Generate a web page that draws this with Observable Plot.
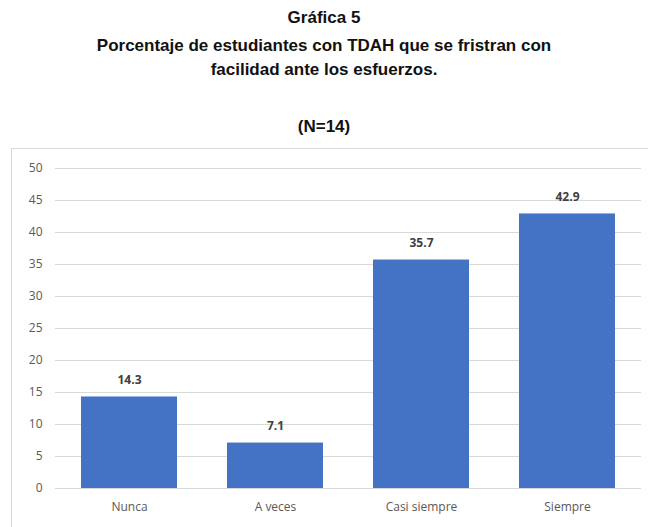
<!DOCTYPE html>
<html>
<head>
<meta charset="utf-8">
<script src="https://cdn.jsdelivr.net/npm/d3@7"></script>
<script src="https://cdn.jsdelivr.net/npm/@observablehq/plot@0.6"></script>
<style>
  html, body { margin: 0; padding: 0; background: #fff; width: 648px; height: 527px; overflow: hidden; position: relative; }
  .t { position: absolute; left: 0; width: 648px; text-align: center; font-family: "Liberation Sans", Arial, sans-serif; font-weight: bold; font-size: 17px; color: #111; line-height: 1; }
  #box { position: absolute; left: 11px; top: 148px; width: 700px; height: 500px; border: 1.5px solid #d9d9d9; }
  #chart { position: absolute; left: 0; top: 148px; }
</style>
</head>
<body>
<div class="t" style="top:9px">Gráfica 5</div>
<div class="t" style="top:37px">Porcentaje de estudiantes con TDAH que se fristran con</div>
<div class="t" style="top:61px">facilidad ante los esfuerzos.</div>
<div class="t" style="top:118px">(N=14)</div>
<div id="box"></div>
<div id="chart"></div>
<script>
const categories = ["Nunca", "A veces", "Casi siempre", "Siempre"];
const values = [14.3, 7.1, 35.7, 42.9];
const yTicks = [0, 5, 10, 15, 20, 25, 30, 35, 40, 45, 50];

const data = categories.map((c, i) => ({cat: c, val: values[i]}));

const chart = Plot.plot({
  width: 648,
  height: 379,
  marginTop: 20,
  marginBottom: 39,
  marginLeft: 55,
  marginRight: 7,
  style: {fontFamily: "'Open Sans', 'Liberation Sans', sans-serif", fontSize: "12px", color: "#595959", background: "transparent"},
  x: {domain: categories, paddingInner: 0.34, paddingOuter: 0.17, label: null, tickSize: 0, tickPadding: 14},
  y: {domain: [0, 50], ticks: yTicks, label: null, tickSize: 0, tickPadding: 13},
  marks: [
    Plot.gridY(yTicks, {stroke: "#d9d9d9", strokeOpacity: 1, strokeWidth: 1}),
    Plot.barY(data, {x: "cat", y: "val", fill: "#4472c4"}),
    Plot.text(data, {x: "cat", y: "val", text: d => d.val.toFixed(1), dy: -17, fill: "#404040", fontWeight: "bold", fontSize: 12}),
    Plot.axisX({tickSize: 0, tickPadding: 14, fill: "#595959"}),
    Plot.axisY(yTicks, {tickSize: 0, tickPadding: 13, fill: "#595959"})
  ]
});
document.getElementById("chart").appendChild(chart);
</script>
</body>
</html>
